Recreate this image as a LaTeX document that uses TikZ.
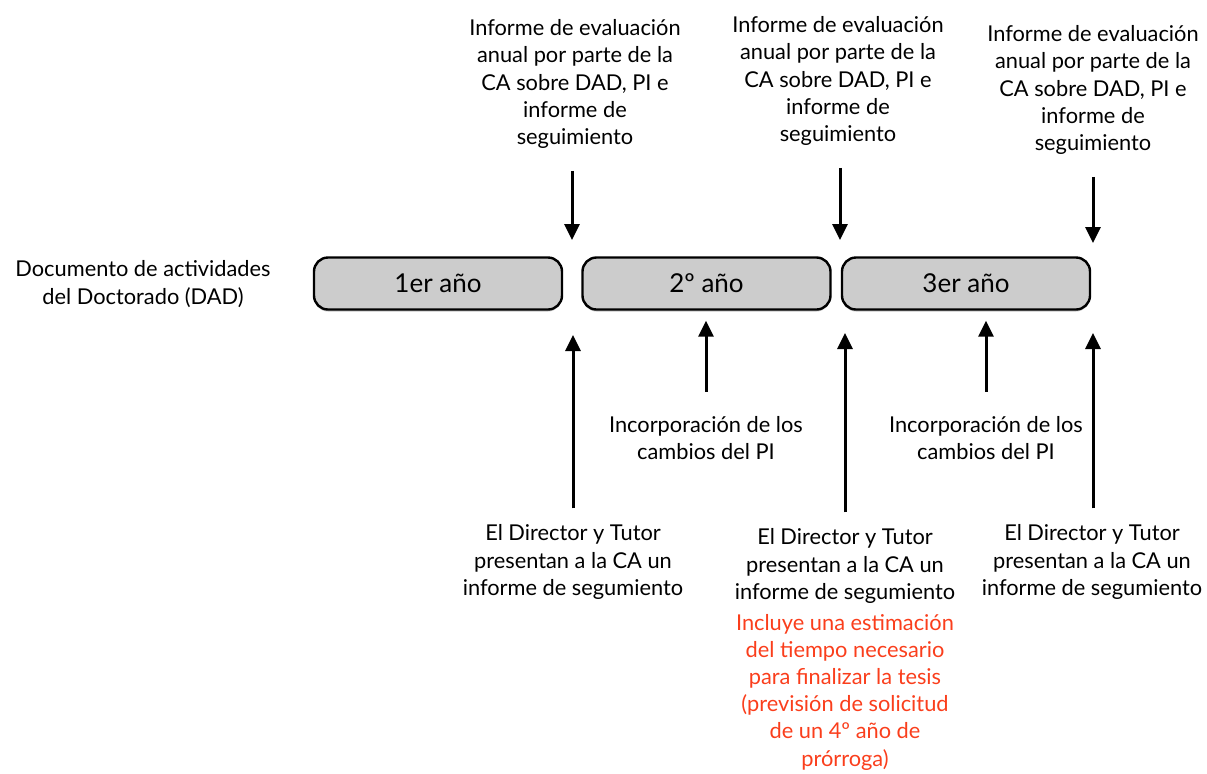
\documentclass[tikz,border=0pt]{standalone}
\usepackage{fontspec}
\setmainfont{Lato}
\usetikzlibrary{arrows.meta,positioning,shadows}
\definecolor{yeargray}{RGB}{204,204,204}
\definecolor{notered}{RGB}{250,62,28}
\newcommand*{\evaltext}{Informe de evaluación\\anual por parte de la\\CA sobre DAD, PI e\\informe de\\seguimiento}
\newcommand*{\dirtext}{El Director y Tutor\\presentan a la CA un\\informe de segumiento}
\newcommand*{\inctext}{Incorporación de los\\cambios del PI}
\tikzset{
    year/.style={draw=black, line width=1.2pt, fill=yeargray, rounded corners=7pt,
        minimum width=124pt, minimum height=26pt, font=\fontsize{13}{15}\selectfont,
        drop shadow={shadow xshift=0pt, shadow yshift=-1pt, opacity=0.45}},
    lbl/.style={align=center, inner sep=0pt, font=\fontsize{10.9}{13.6}\selectfont},
    arr/.style={line width=1.5pt, -{Triangle[width=7.5pt,length=8pt]}}
}
\begin{document}
\begin{tikzpicture}[x=0.5pt,y=-0.5pt]
        \useasboundingbox (0,0) rectangle (1207,773);

        \node[year](year-1) at (438,283.5) {1er año};
        \node[year](year-2) at (706.5,283.5) {2º año};
        \node[year](year-3) at (966,283.5) {3er año};
        \node[lbl](dad) at (143,284) {Documento de actividades\\del Doctorado (DAD)};

        \node[lbl](eval-1) at (575,84) {\evaltext};
        \node[lbl](eval-2) at (838,81) {\evaltext};
        \node[lbl](eval-3) at (1093,90) {\evaltext};

        \node[lbl](dir-1) at (573,562) {\dirtext};
        \node[lbl](dir-2) at (845,566) {\dirtext};
        \node[lbl](dir-3) at (1092,562) {\dirtext};
        \node[lbl, text=notered, below=5pt of dir-2](note) {Incluye una estimación\\del tiempo necesario\\para finalizar la tesis\\(previsión de solicitud\\de un 4º año de\\prórroga)};

        \node[lbl](inc-1) at (706,438) {\inctext};
        \node[lbl](inc-2) at (986,438) {\inctext};

        \coordinate (down-1) at (572,240);
        \coordinate (down-2) at (840,240);
        \coordinate (down-3) at (1093,243);
        \coordinate (up-1) at (573,335);
        \coordinate (up-2) at (845,333);
        \coordinate (up-3) at (1093,333);

        \foreach \i in {1,2,3} {
                \draw[arr, shorten <=11pt] (eval-\i.south -| down-\i) -- (down-\i);
                \draw[arr, shorten <=8pt] (dir-\i.north -| up-\i) -- (up-\i);
            }
        \draw[arr, shorten <=12pt, shorten >=5pt] (inc-1.north) -- (inc-1.north |- year-2.south);
        \draw[arr, shorten <=12pt, shorten >=5pt] (inc-2.north) -- (inc-2.north |- year-3.south);
    \end{tikzpicture}
\end{document}
